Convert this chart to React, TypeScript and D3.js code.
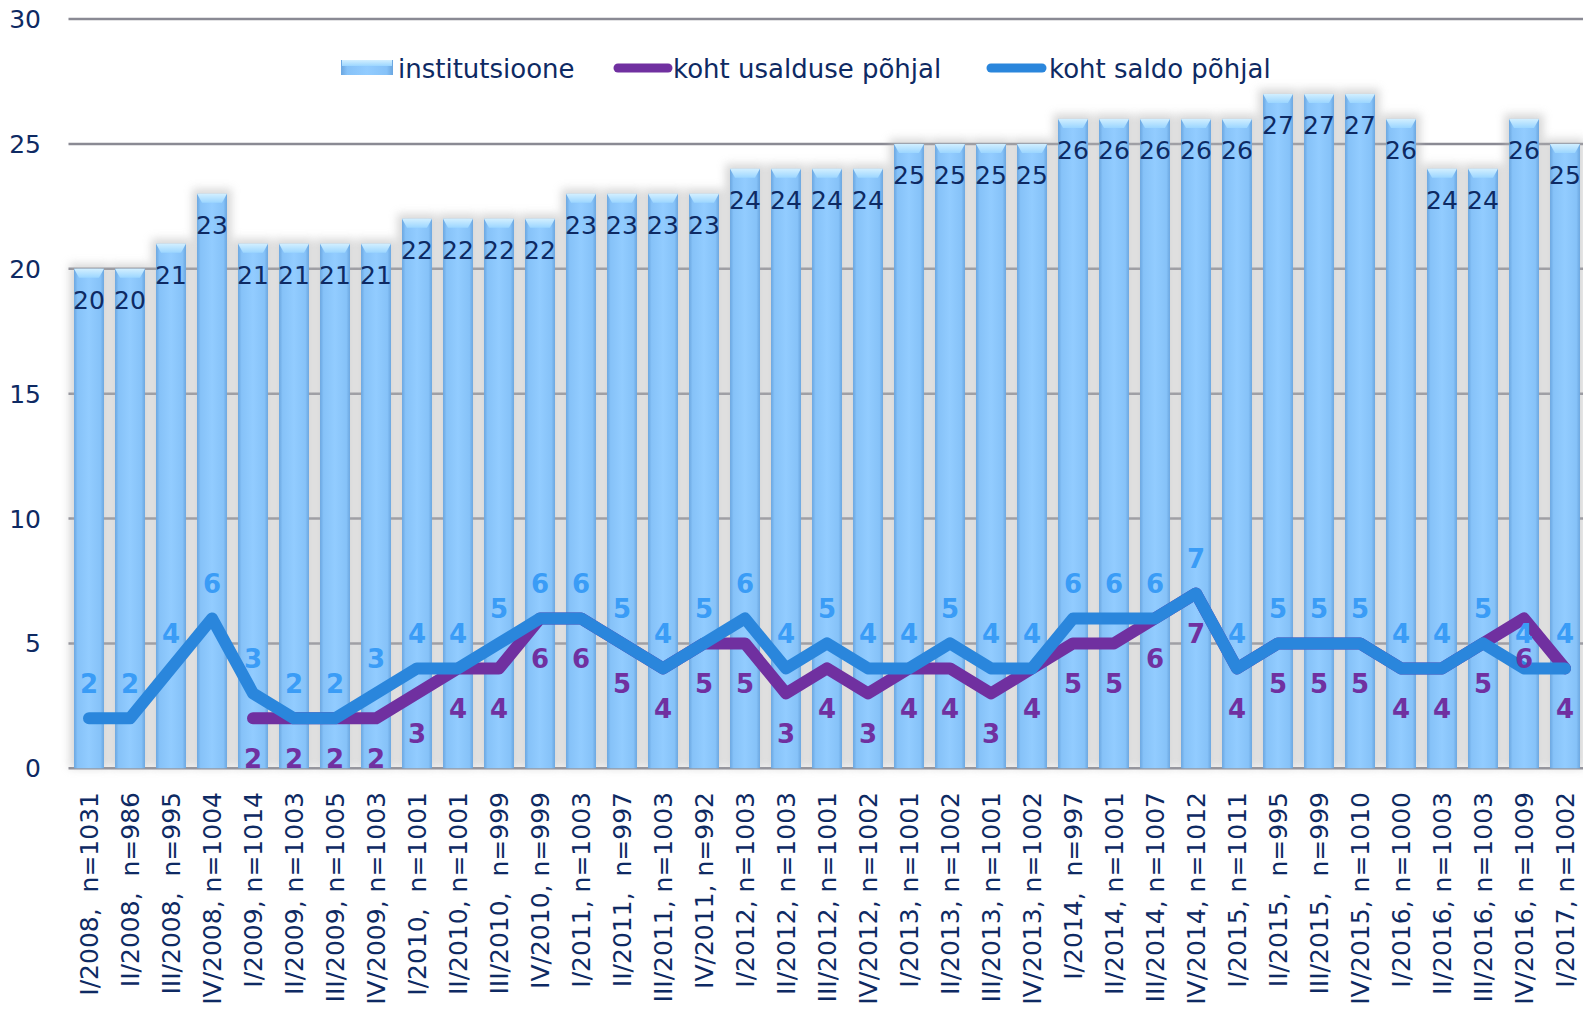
import React from "react";
import * as d3 from "d3";

const categories = [
  "I/2008,  n=1031", "II/2008,  n=986", "III/2008,  n=995", "IV/2008, n=1004",
  "I/2009, n=1014", "II/2009, n=1003", "III/2009, n=1005", "IV/2009, n=1003",
  "I/2010,  n=1001", "II/2010, n=1001", "III/2010,  n=999", "IV/2010, n=999",
  "I/2011, n=1003", "II/2011,  n=997", "III/2011, n=1003", "IV/2011, n=992",
  "I/2012, n=1003", "II/2012, n=1003", "III/2012, n=1001", "IV/2012, n=1002",
  "I/2013, n=1001", "II/2013, n=1002", "III/2013, n=1001", "IV/2013, n=1002",
  "I/2014,  n=997", "II/2014, n=1001", "III/2014, n=1007", "IV/2014, n=1012",
  "I/2015, n=1011", "II/2015,  n=995", "III/2015,  n=999", "IV/2015, n=1010",
  "I/2016, n=1000", "II/2016, n=1003", "III/2016, n=1003", "IV/2016, n=1009",
  "I/2017, n=1002",
];

const institutions = [
  20, 20, 21, 23, 21, 21, 21, 21, 22, 22, 22, 22, 23, 23, 23, 23, 24, 24, 24,
  24, 25, 25, 25, 25, 26, 26, 26, 26, 26, 27, 27, 27, 26, 24, 24, 26, 25,
];

const trustRank: (number | null)[] = [
  null, null, null, null, 2, 2, 2, 2, 3, 4, 4, 6, 6, 5, 4, 5, 5, 3, 4, 3, 4,
  4, 3, 4, 5, 5, 6, 7, 4, 5, 5, 5, 4, 4, 5, 6, 4,
];

const balanceRank = [
  2, 2, 4, 6, 3, 2, 2, 3, 4, 4, 5, 6, 6, 5, 4, 5, 6, 4, 5, 4, 4, 5, 4, 4, 6,
  6, 6, 7, 4, 5, 5, 5, 4, 4, 5, 4, 4,
];

const yTicks = [0, 5, 10, 15, 20, 25, 30];

const legendNames = ["institutsioone", "koht usalduse põhjal", "koht saldo põhjal"];

const W = 1583;
const H = 1027;
const FONT = "'DejaVu Sans', Verdana, sans-serif";
const NAVY = "#0e2a63";
const PURPLE = "#7030a0";
const BLUE = "#2a86dc";
const BLUE_LABEL = "#3a9cf6";

export default function App() {
  const step = 41;
  const left = 68.5;
  const x = d3
    .scaleBand<string>()
    .domain(categories)
    .range([left, left + step * categories.length])
    .paddingInner(0.27)
    .paddingOuter(0.135);
  const y = d3.scaleLinear().domain([0, 30]).range([768.3, 19]);
  const bw = x.bandwidth();
  const cx = (i: number) => (x(categories[i]) as number) + bw / 2;

  const line = d3
    .line<number | null>()
    .defined((d) => d != null)
    .x((_, i) => cx(i))
    .y((d) => y(d as number));

  // bevel cap on top of each bar
  const cap = (x0: number, y0: number, w: number) =>
    `M${x0},${y0}H${x0 + w}L${x0 + w - 5},${y0 + 9}H${x0 + 5}Z`;

  return (
    <svg
      width={W}
      height={H}
      style={{ position: "absolute", left: 0, top: 0, background: "#fff" }}
      fontFamily={FONT}
    >
      <defs>
        <linearGradient id="barBody" x1="0" x2="1" y1="0" y2="0">
          <stop offset="0" stopColor="#6aa6e0" />
          <stop offset="0.12" stopColor="#86c2f8" />
          <stop offset="0.5" stopColor="#92ccff" />
          <stop offset="0.88" stopColor="#86c2f8" />
          <stop offset="1" stopColor="#6aa6e0" />
        </linearGradient>
        <linearGradient id="barTop" x1="0" x2="0" y1="0" y2="1">
          <stop offset="0" stopColor="#d2efff" />
          <stop offset="1" stopColor="#9cd6ff" />
        </linearGradient>
        <filter id="shadow" x="-50%" y="-10%" width="200%" height="120%">
          <feGaussianBlur stdDeviation="4" />
        </filter>
      </defs>

      {/* gridlines */}
      {yTicks.map((t) => (
        <line
          key={t}
          x1={left}
          x2={W}
          y1={y(t)}
          y2={y(t)}
          stroke="#8a8a94"
          strokeWidth={2.5}
        />
      ))}

      {/* bar shadows */}
      <g filter="url(#shadow)" opacity={0.55}>
        {institutions.map((v, i) => (
          <rect
            key={i}
            x={cx(i) - step / 2 + 1}
            y={y(v) - 5}
            width={step - 2}
            height={y(0) - y(v) + 5}
            fill="#b8b8b8"
          />
        ))}
      </g>

      {/* bars */}
      {institutions.map((v, i) => (
        <g key={i}>
          <rect
            x={x(categories[i])}
            y={y(v)}
            width={bw}
            height={y(0) - y(v)}
            fill="url(#barBody)"
          />
          <path d={cap(x(categories[i]) as number, y(v), bw)} fill="url(#barTop)" />
        </g>
      ))}

      {/* y axis labels */}
      {yTicks.map((t) => (
        <text
          key={t}
          x={41}
          y={y(t)}
          dy="0.36em"
          textAnchor="end"
          fontSize={25}
          fill={NAVY}
        >
          {t}
        </text>
      ))}

      {/* bar value labels */}
      {institutions.map((v, i) => (
        <text
          key={i}
          x={cx(i)}
          y={y(v) + 40}
          textAnchor="middle"
          fontSize={25}
          fill={NAVY}
        >
          {v}
        </text>
      ))}

      {/* lines */}
      <path
        d={line(trustRank) || ""}
        fill="none"
        stroke={PURPLE}
        strokeWidth={12}
        strokeLinejoin="round"
        strokeLinecap="round"
      />
      <path
        d={line(balanceRank) || ""}
        fill="none"
        stroke={BLUE}
        strokeWidth={12}
        strokeLinejoin="round"
        strokeLinecap="round"
      />

      {/* line labels */}
      {trustRank.map((v, i) =>
        v == null ? null : (
          <text
            key={"t" + i}
            x={cx(i)}
            y={y(v) + 50}
            textAnchor="middle"
            fontSize={26}
            fontWeight="bold"
            fill={PURPLE}
          >
            {v}
          </text>
        )
      )}
      {balanceRank.map((v, i) => (
        <text
          key={"b" + i}
          x={cx(i)}
          y={y(v) - 25}
          textAnchor="middle"
          fontSize={26}
          fontWeight="bold"
          fill={BLUE_LABEL}
        >
          {v}
        </text>
      ))}

      {/* x axis labels */}
      {categories.map((c, i) => (
        <text
          key={c}
          transform={`translate(${cx(i)},792) rotate(-90)`}
          dy="0.36em"
          textAnchor="end"
          fontSize={25}
          fill={NAVY}
          style={{ whiteSpace: "pre" }}
        >
          {c}
        </text>
      ))}

      {/* legend */}
      <g>
        <rect x={341} y={60} width={52} height={15} fill="url(#barBody)" />
        <rect x={342} y={60} width={50} height={6} fill="url(#barTop)" />
        <text x={398} y={78} fontSize={26} fill={NAVY}>
          {legendNames[0]}
        </text>
        <line x1={618} x2={668} y1={68} y2={68} stroke={PURPLE} strokeWidth={9} strokeLinecap="round" />
        <text x={673} y={78} fontSize={26} fill={NAVY}>
          {legendNames[1]}
        </text>
        <line x1={991} x2={1042} y1={68} y2={68} stroke={BLUE} strokeWidth={9} strokeLinecap="round" />
        <text x={1049} y={78} fontSize={26} fill={NAVY}>
          {legendNames[2]}
        </text>
      </g>
    </svg>
  );
}
